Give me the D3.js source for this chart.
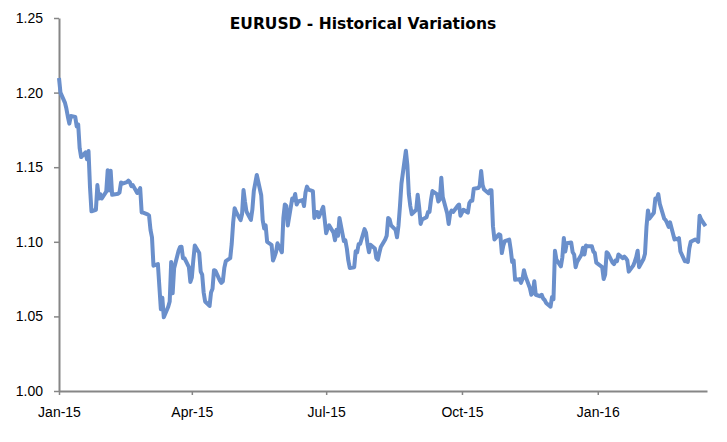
<!DOCTYPE html>
<html>
<head>
<meta charset="utf-8">
<script src="https://cdn.jsdelivr.net/npm/d3@7.9.0/dist/d3.min.js"></script>
<style>
  body { margin: 0; background: #fff; }
  svg { display: block; font-family: "DejaVu Sans", sans-serif; }
  .title { font-size: 15.5px; font-weight: bold; fill: #000; }
  .tick text { font-size: 14px; fill: #000; }
</style>
</head>
<body>
<svg id="chart" width="727" height="442"></svg>
<script>
const title = 'EURUSD - Historical Variations';

const yTicks = [1.00, 1.05, 1.10, 1.15, 1.20, 1.25];
const xTickDates = ['2015-01-01', '2015-04-01', '2015-07-01', '2015-10-01', '2016-01-01'];
const xDomain = ['2015-01-01', '2016-03-15'];

// daily closes
const dates = [
  '2015-01-01','2015-01-02','2015-01-05','2015-01-06','2015-01-07','2015-01-08','2015-01-09',
  '2015-01-12','2015-01-13','2015-01-14','2015-01-15','2015-01-16','2015-01-19','2015-01-20',
  '2015-01-21','2015-01-22','2015-01-23','2015-01-26','2015-01-27','2015-01-28','2015-01-29',
  '2015-01-30','2015-02-02','2015-02-03','2015-02-04','2015-02-05','2015-02-06','2015-02-09',
  '2015-02-10','2015-02-11','2015-02-12','2015-02-13','2015-02-16','2015-02-17','2015-02-18',
  '2015-02-19','2015-02-20','2015-02-23','2015-02-24','2015-02-25','2015-02-26','2015-02-27',
  '2015-03-02','2015-03-03','2015-03-04','2015-03-05','2015-03-06','2015-03-09','2015-03-10',
  '2015-03-11','2015-03-12','2015-03-13','2015-03-16','2015-03-17','2015-03-18','2015-03-19',
  '2015-03-20','2015-03-23','2015-03-24','2015-03-25','2015-03-26','2015-03-27','2015-03-30',
  '2015-03-31','2015-04-01','2015-04-02','2015-04-03','2015-04-06','2015-04-07','2015-04-08',
  '2015-04-09','2015-04-10','2015-04-13','2015-04-14','2015-04-15','2015-04-16','2015-04-17',
  '2015-04-20','2015-04-21','2015-04-22','2015-04-23','2015-04-24','2015-04-27','2015-04-28',
  '2015-04-29','2015-04-30','2015-05-01','2015-05-04','2015-05-05','2015-05-06','2015-05-07',
  '2015-05-08','2015-05-11','2015-05-12','2015-05-13','2015-05-14','2015-05-15','2015-05-18',
  '2015-05-19','2015-05-20','2015-05-21','2015-05-22','2015-05-25','2015-05-26','2015-05-27',
  '2015-05-28','2015-05-29','2015-06-01','2015-06-02','2015-06-03','2015-06-04','2015-06-05',
  '2015-06-08','2015-06-09','2015-06-10','2015-06-11','2015-06-12','2015-06-15','2015-06-16',
  '2015-06-17','2015-06-18','2015-06-19','2015-06-22','2015-06-23','2015-06-24','2015-06-25',
  '2015-06-26','2015-06-29','2015-06-30','2015-07-01','2015-07-02','2015-07-03','2015-07-06',
  '2015-07-07','2015-07-08','2015-07-09','2015-07-10','2015-07-13','2015-07-14','2015-07-15',
  '2015-07-16','2015-07-17','2015-07-20','2015-07-21','2015-07-22','2015-07-23','2015-07-24',
  '2015-07-27','2015-07-28','2015-07-29','2015-07-30','2015-07-31','2015-08-03','2015-08-04',
  '2015-08-05','2015-08-06','2015-08-07','2015-08-10','2015-08-11','2015-08-12','2015-08-13',
  '2015-08-14','2015-08-17','2015-08-18','2015-08-19','2015-08-20','2015-08-21','2015-08-24',
  '2015-08-25','2015-08-26','2015-08-27','2015-08-28','2015-08-31','2015-09-01','2015-09-02',
  '2015-09-03','2015-09-04','2015-09-07','2015-09-08','2015-09-09','2015-09-10','2015-09-11',
  '2015-09-14','2015-09-15','2015-09-16','2015-09-17','2015-09-18','2015-09-21','2015-09-22',
  '2015-09-23','2015-09-24','2015-09-25','2015-09-28','2015-09-29','2015-09-30','2015-10-01',
  '2015-10-02','2015-10-05','2015-10-06','2015-10-07','2015-10-08','2015-10-09','2015-10-12',
  '2015-10-13','2015-10-14','2015-10-15','2015-10-16','2015-10-19','2015-10-20','2015-10-21',
  '2015-10-22','2015-10-23','2015-10-26','2015-10-27','2015-10-28','2015-10-29','2015-10-30',
  '2015-11-02','2015-11-03','2015-11-04','2015-11-05','2015-11-06','2015-11-09','2015-11-10',
  '2015-11-11','2015-11-12','2015-11-13','2015-11-16','2015-11-17','2015-11-18','2015-11-19',
  '2015-11-20','2015-11-23','2015-11-24','2015-11-25','2015-11-26','2015-11-27','2015-11-30',
  '2015-12-01','2015-12-02','2015-12-03','2015-12-04','2015-12-07','2015-12-08','2015-12-09',
  '2015-12-10','2015-12-11','2015-12-14','2015-12-15','2015-12-16','2015-12-17','2015-12-18',
  '2015-12-21','2015-12-22','2015-12-23','2015-12-24','2015-12-25','2015-12-28','2015-12-29',
  '2015-12-30','2015-12-31','2016-01-04','2016-01-05','2016-01-06','2016-01-07','2016-01-08',
  '2016-01-11','2016-01-12','2016-01-13','2016-01-14','2016-01-15','2016-01-18','2016-01-19',
  '2016-01-20','2016-01-21','2016-01-22','2016-01-25','2016-01-26','2016-01-27','2016-01-28',
  '2016-01-29','2016-02-01','2016-02-02','2016-02-03','2016-02-04','2016-02-05','2016-02-08',
  '2016-02-09','2016-02-10','2016-02-11','2016-02-12','2016-02-15','2016-02-16','2016-02-17',
  '2016-02-18','2016-02-19','2016-02-22','2016-02-23','2016-02-24','2016-02-25','2016-02-26',
  '2016-02-29','2016-03-01','2016-03-02','2016-03-03','2016-03-04','2016-03-07','2016-03-08',
  '2016-03-09','2016-03-10','2016-03-11','2016-03-14'
];

const rates = [
  1.2098,1.2000,1.1933,1.1893,1.1838,1.1792,1.1843,
  1.1837,1.1773,1.1787,1.1627,1.1568,1.1600,1.1553,
  1.1608,1.1366,1.1204,1.1214,1.1380,1.1290,1.1320,
  1.1290,1.1336,1.1480,1.1344,1.1477,1.1315,1.1320,
  1.1322,1.1331,1.1398,1.1390,1.1400,1.1410,1.1400,
  1.1373,1.1380,1.1327,1.1341,1.1360,1.1197,1.1196,
  1.1184,1.1176,1.1079,1.1029,1.0840,1.0851,1.0700,
  1.0548,1.0625,1.0494,1.0565,1.0600,1.0865,1.0655,
  1.0822,1.0940,1.0965,1.0967,1.0890,1.0890,1.0830,
  1.0731,1.0762,1.0877,1.0975,1.0925,1.0800,1.0780,
  1.0660,1.0600,1.0570,1.0660,1.0685,1.0810,1.0805,
  1.0740,1.0725,1.0735,1.0825,1.0870,1.0890,1.0985,
  1.1130,1.1225,1.1200,1.1145,1.1185,1.1347,1.1268,
  1.1203,1.1147,1.1216,1.1342,1.1395,1.1448,1.1312,
  1.1145,1.1090,1.1110,1.1000,1.0980,1.0875,1.0900,
  1.0930,1.0990,1.0930,1.1160,1.1250,1.1240,1.1110,
  1.1290,1.1280,1.1320,1.1250,1.1270,1.1280,1.1240,
  1.1330,1.1370,1.1350,1.1340,1.1160,1.1200,1.1200,
  1.1165,1.1235,1.1148,1.1057,1.1090,1.1110,1.1060,
  1.1010,1.1080,1.1040,1.1160,1.1005,1.1010,1.0955,
  1.0875,1.0825,1.0830,1.0937,1.0930,1.0985,1.0985,
  1.1085,1.1060,1.0985,1.0930,1.0980,1.0955,1.0890,
  1.0880,1.0925,1.0965,1.1015,1.1040,1.1160,1.1150,
  1.1110,1.1080,1.1030,1.1110,1.1240,1.1390,1.1610,
  1.1515,1.1320,1.1240,1.1185,1.1215,1.1315,1.1230,
  1.1120,1.1150,1.1165,1.1200,1.1200,1.1280,1.1340,
  1.1320,1.1270,1.1285,1.1430,1.1300,1.1190,1.1120,
  1.1190,1.1210,1.1200,1.1240,1.1250,1.1175,1.1195,
  1.1215,1.1195,1.1260,1.1275,1.1275,1.1355,1.1360,
  1.1375,1.1475,1.1380,1.1350,1.1325,1.1345,1.1345,
  1.1105,1.1015,1.1050,1.1045,1.0925,1.0975,1.1005,
  1.1015,1.0950,1.0865,1.0875,1.0745,1.0750,1.0725,
  1.0750,1.0810,1.0770,1.0690,1.0645,1.0660,1.0735,
  1.0645,1.0635,1.0645,1.0620,1.0610,1.0590,1.0565,
  1.0630,1.0615,1.0940,1.0880,1.0835,1.0895,1.1025,
  1.0935,1.0990,1.0995,1.0930,1.0915,1.0830,1.0865,
  1.0915,1.0960,1.0915,1.0975,1.0970,1.0970,1.0935,
  1.0925,1.0860,1.0830,1.0750,1.0780,1.0930,1.0920,
  1.0860,1.0850,1.0875,1.0870,1.0915,1.0890,1.0900,
  1.0890,1.0875,1.0800,1.0840,1.0865,1.0895,1.0940,
  1.0830,1.0885,1.0920,1.1100,1.1210,1.1155,1.1195,
  1.1290,1.1285,1.1320,1.1255,1.1155,1.1145,1.1125,
  1.1100,1.1130,1.1015,1.1020,1.1015,1.1025,1.0935,
  1.0870,1.0870,1.0865,1.0955,1.1000,1.1015,1.1010,
  1.1000,1.1175,1.1150,1.1105
];

const width = 727, height = 442;
const margin = { top: 18, right: 20, bottom: 51, left: 59 };

const parse = d3.timeParse('%Y-%m-%d');
const data = dates.map((d, i) => ({ date: parse(d), value: rates[i] }));

const svg = d3.select('#chart');

const x = d3.scaleTime()
  .domain(xDomain.map(parse))
  .range([margin.left, width - margin.right]);

const y = d3.scaleLinear()
  .domain([1.00, 1.25])
  .range([height - margin.bottom, margin.top]);

// axes
svg.append('g')
  .attr('transform', `translate(${margin.left},0)`)
  .call(d3.axisLeft(y).tickValues(yTicks).tickFormat(d3.format('.2f')).tickSize(5).tickPadding(11).tickSizeOuter(0));

svg.append('g')
  .attr('transform', `translate(0,${height - margin.bottom})`)
  .call(d3.axisBottom(x).tickValues(xTickDates.map(parse)).tickFormat(d3.timeFormat('%b-%y')).tickSize(4).tickPadding(12).tickSizeOuter(0));

svg.selectAll('.domain').attr('stroke', '#868686').attr('stroke-width', 2);
svg.selectAll('.tick line').attr('stroke', '#868686').attr('stroke-width', 1.5);

// line
const line = d3.line()
  .x(d => x(d.date))
  .y(d => y(d.value));

svg.append('path')
  .datum(data)
  .attr('fill', 'none')
  .attr('stroke', '#6a8fcb')
  .attr('stroke-width', 4)
  .attr('stroke-linejoin', 'round')
  .attr('d', line);

svg.append('text')
  .attr('class', 'title')
  .attr('x', 363)
  .attr('y', 29)
  .attr('text-anchor', 'middle')
  .text(title);
</script>
</body>
</html>
